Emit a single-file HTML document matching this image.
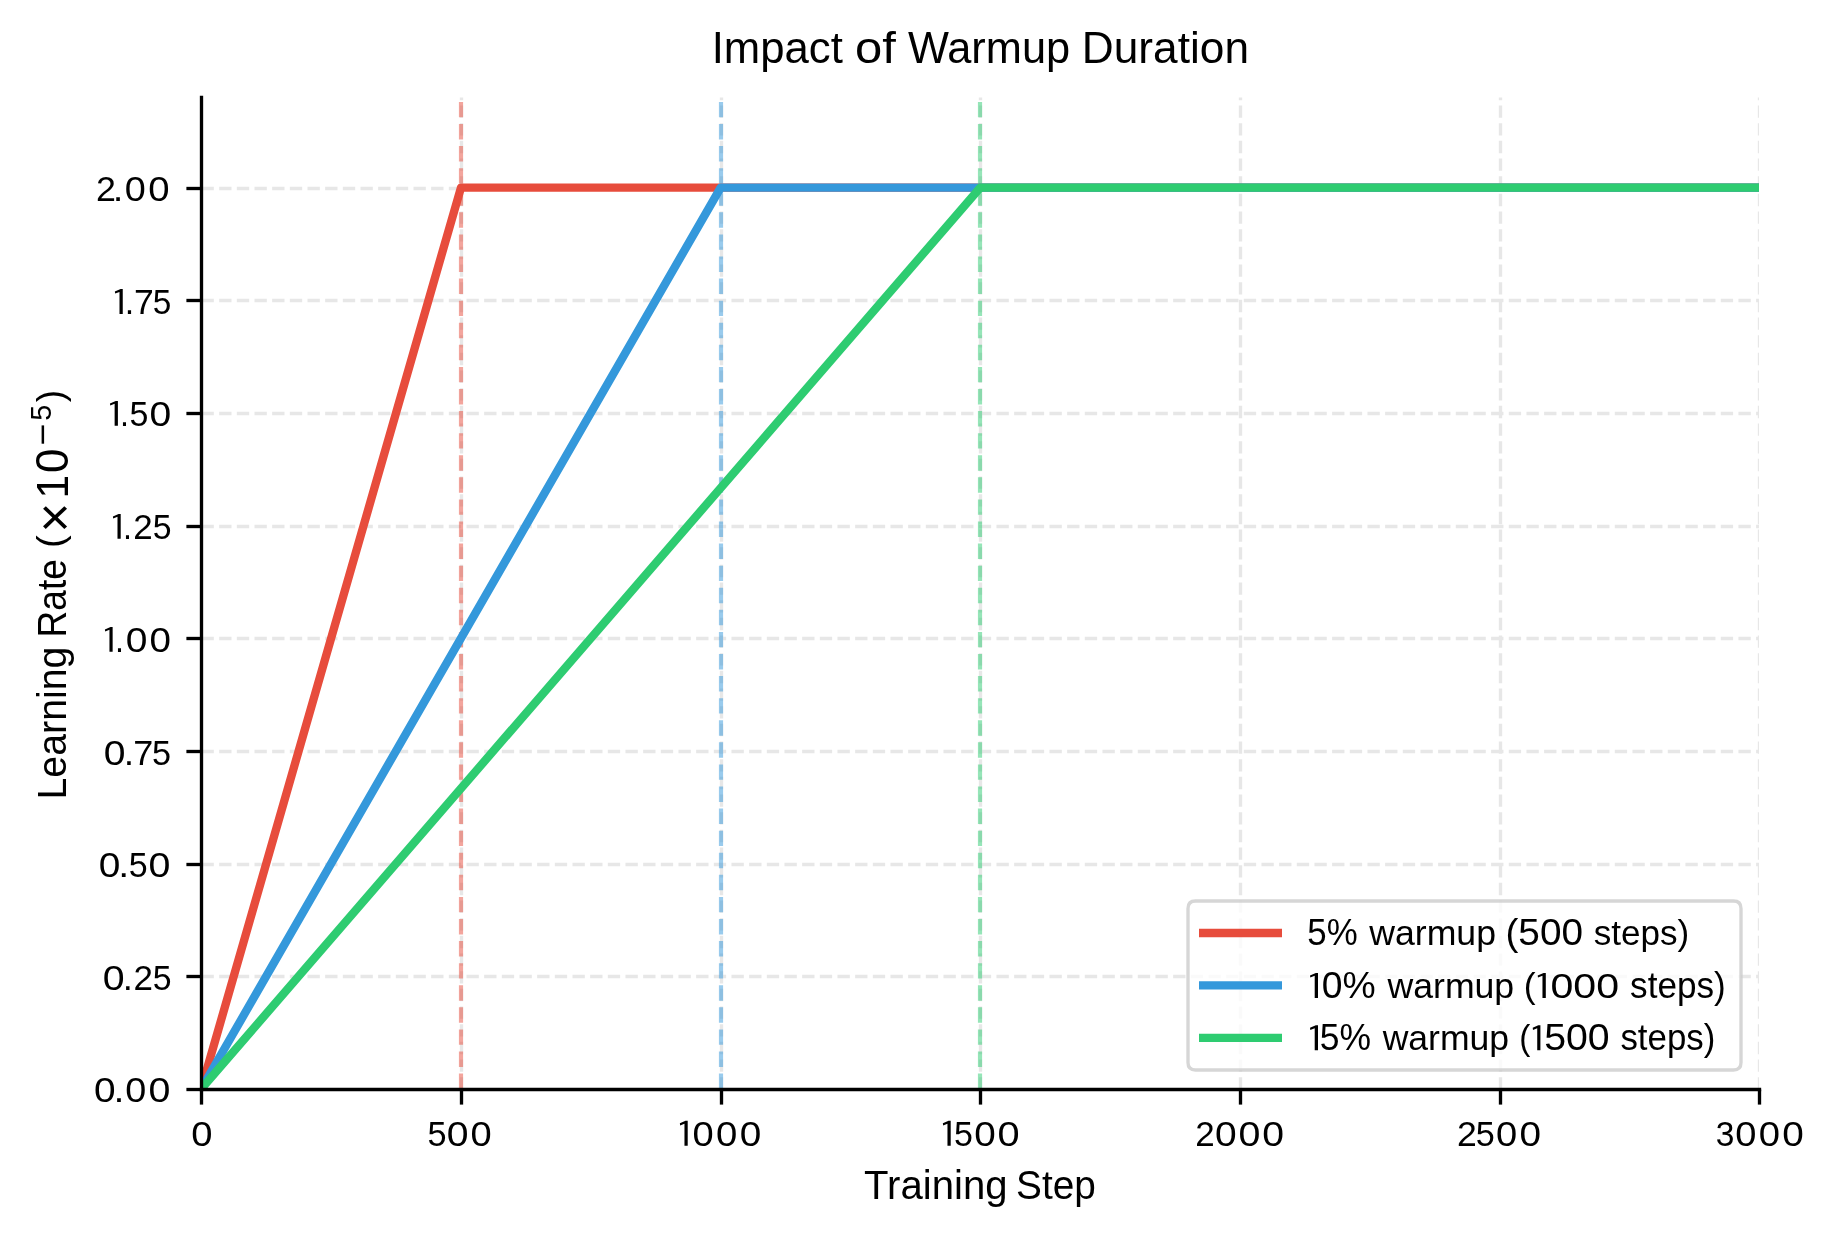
<!DOCTYPE html>
<html><head><meta charset="utf-8"><style>
html,body{margin:0;padding:0;background:#fff;overflow:hidden;}
svg{display:block;will-change:transform;}
text{font-family:"Liberation Sans", sans-serif;fill:#000;}
</style></head><body>
<svg width="1834" height="1234" viewBox="0 0 1834 1234">
<rect width="1834" height="1234" fill="#fff"/>
<defs><clipPath id="ax"><rect x="201" y="97" width="1558" height="992"/></clipPath></defs>
<g clip-path="url(#ax)" fill="none" stroke="#e7e7e7" stroke-width="3.333" stroke-dasharray="12.333 5.333"><path d="M201.5 976.5H1759.5"/><path d="M201.5 864.5H1759.5"/><path d="M201.5 751.5H1759.5"/><path d="M201.5 638.5H1759.5"/><path d="M201.5 526.5H1759.5"/><path d="M201.5 413.5H1759.5"/><path d="M201.5 300.5H1759.5"/><path d="M201.5 188.5H1759.5"/><path d="M461.5 1089.5V97.5"/><path d="M721.5 1089.5V97.5"/><path d="M980.5 1089.5V97.5"/><path d="M1240.5 1089.5V97.5"/><path d="M1500.5 1089.5V97.5"/><path d="M1759.5 1089.5V97.5"/></g>
<g clip-path="url(#ax)" fill="none"><path d="M201.30 1088.85L460.98 187.55L1769.38 187.55" stroke="#e74c3c" stroke-width="8.333" stroke-linejoin="round" stroke-linecap="square"/><path d="M461 1089V97" stroke="#e74c3c" stroke-opacity="0.5" stroke-width="4.167" stroke-dasharray="15.417 6.667"/><path d="M201.30 1088.85L720.66 187.55L1769.38 187.55" stroke="#3498db" stroke-width="8.333" stroke-linejoin="round" stroke-linecap="square"/><path d="M721 1089V97" stroke="#3498db" stroke-opacity="0.5" stroke-width="4.167" stroke-dasharray="15.417 6.667"/><path d="M201.30 1088.85L980.34 187.55L1769.38 187.55" stroke="#2ecc71" stroke-width="8.333" stroke-linejoin="round" stroke-linecap="square"/><path d="M980 1089V97" stroke="#2ecc71" stroke-opacity="0.5" stroke-width="4.167" stroke-dasharray="15.417 6.667"/></g>
<g stroke="#000" stroke-width="3.333" fill="none"><path d="M201.5 95.83V1091.17"/><path d="M199.83 1089.5H1761.17"/>
<path d="M186.40 1089.5H201.5"/>
<path d="M186.40 976.5H201.5"/>
<path d="M186.40 864.5H201.5"/>
<path d="M186.40 751.5H201.5"/>
<path d="M186.40 638.5H201.5"/>
<path d="M186.40 526.5H201.5"/>
<path d="M186.40 413.5H201.5"/>
<path d="M186.40 300.5H201.5"/>
<path d="M186.40 188.5H201.5"/>
<path d="M201.5 1089.5V1104.60"/>
<path d="M461.5 1089.5V1104.60"/>
<path d="M721.5 1089.5V1104.60"/>
<path d="M980.5 1089.5V1104.60"/>
<path d="M1240.5 1089.5V1104.60"/>
<path d="M1500.5 1089.5V1104.60"/>
<path d="M1759.5 1089.5V1104.60"/>
</g>
<path d="M1195.5 901.0H1733.5Q1741.0 901.0 1741.0 908.5V1062.5Q1741.0 1070.0 1733.5 1070.0H1195.5Q1188.0 1070.0 1188.0 1062.5V908.5Q1188.0 901.0 1195.5 901.0Z" fill="#fff" fill-opacity="0.8" stroke="#ccc" stroke-opacity="0.8" stroke-width="3.333"/>
<path d="M1199 933.0H1282" stroke="#e74c3c" stroke-width="8.333"/>
<path d="M1199 985.4H1282" stroke="#3498db" stroke-width="8.333"/>
<path d="M1199 1037.8H1282" stroke="#2ecc71" stroke-width="8.333"/>
<text transform="translate(93.94,1102.25) scale(1.0965,1)" font-size="35.4">0</text>
<text transform="translate(113.47,1102.25) scale(1.1143,1)" font-size="35.4">.</text>
<text transform="translate(125.13,1102.25) scale(1.0676,1)" font-size="35.4">0</text>
<text transform="translate(148.62,1102.25) scale(1.1118,1)" font-size="35.4">0</text>
<text transform="translate(102.66,989.50) scale(1.1094,1)" font-size="35.4">0</text>
<text transform="translate(122.74,989.50) scale(1.0286,1)" font-size="35.4">.</text>
<text transform="translate(133.39,989.50) scale(0.9875,1)" font-size="35.4">2</text>
<text transform="translate(152.87,989.50) scale(0.9540,1)" font-size="35.4">5</text>
<text transform="translate(98.84,876.55) scale(1.0971,1)" font-size="35.4">0</text>
<text transform="translate(118.37,876.55) scale(1.1143,1)" font-size="35.4">.</text>
<text transform="translate(128.76,876.55) scale(0.9600,1)" font-size="35.4">5</text>
<text transform="translate(148.62,876.55) scale(1.1118,1)" font-size="35.4">0</text>
<text transform="translate(103.71,764.60) scale(1.1041,1)" font-size="35.4">0</text>
<text transform="translate(123.65,764.60) scale(1.0571,1)" font-size="35.4">.</text>
<text transform="translate(133.23,764.60) scale(1.0188,1)" font-size="35.4">7</text>
<text transform="translate(152.05,764.60) scale(0.9660,1)" font-size="35.4">5</text>
<path d="M110.53 626.90 L104.90 629.40 L105.19 631.50 L109.46 629.80 L109.46 651.80 L112.64 651.80 L112.64 626.90Z" fill="#000"/>
<text transform="translate(115.10,651.80) scale(0.9143,1)" font-size="35.4">.</text>
<text transform="translate(125.63,651.80) scale(1.1000,1)" font-size="35.4">0</text>
<text transform="translate(149.61,651.80) scale(1.0906,1)" font-size="35.4">0</text>
<path d="M118.58 513.90 L112.90 516.40 L113.20 518.50 L117.49 516.80 L117.49 538.80 L120.70 538.80 L120.70 513.90Z" fill="#000"/>
<text transform="translate(123.10,538.80) scale(0.9143,1)" font-size="35.4">.</text>
<text transform="translate(133.29,538.80) scale(0.9875,1)" font-size="35.4">2</text>
<text transform="translate(152.67,538.80) scale(0.9540,1)" font-size="35.4">5</text>
<path d="M115.74 400.95 L109.95 403.45 L110.25 405.55 L114.63 403.85 L114.63 425.85 L117.90 425.85 L117.90 400.95Z" fill="#000"/>
<text transform="translate(120.10,425.85) scale(0.9143,1)" font-size="35.4">.</text>
<text transform="translate(129.56,425.85) scale(0.9600,1)" font-size="35.4">5</text>
<text transform="translate(149.59,425.85) scale(1.1024,1)" font-size="35.4">0</text>
<path d="M120.60 289.00 L114.85 291.50 L115.15 293.60 L119.50 291.90 L119.50 313.90 L122.75 313.90 L122.75 289.00Z" fill="#000"/>
<text transform="translate(124.86,313.90) scale(0.9600,1)" font-size="35.4">.</text>
<text transform="translate(134.06,313.90) scale(1.0062,1)" font-size="35.4">7</text>
<text transform="translate(152.79,313.90) scale(0.9420,1)" font-size="35.4">5</text>
<text transform="translate(95.99,200.90) scale(1.0119,1)" font-size="35.4">2</text>
<text transform="translate(112.83,200.90) scale(1.0800,1)" font-size="35.4">.</text>
<text transform="translate(124.64,200.90) scale(1.0671,1)" font-size="35.4">0</text>
<text transform="translate(148.16,200.90) scale(1.0824,1)" font-size="35.4">0</text>
<text transform="translate(191.18,1145.70) scale(1.0782,1)" font-size="35.4">0</text>
<text transform="translate(427.49,1145.70) scale(0.9684,1)" font-size="35.4">5</text>
<text transform="translate(446.63,1145.70) scale(1.1059,1)" font-size="35.4">0</text>
<text transform="translate(470.46,1145.70) scale(1.0765,1)" font-size="35.4">0</text>
<path d="M685.56 1120.80 L679.85 1123.30 L680.15 1125.40 L684.47 1123.70 L684.47 1145.70 L687.70 1145.70 L687.70 1120.80Z" fill="#000"/>
<text transform="translate(692.56,1145.70) scale(1.0765,1)" font-size="35.4">0</text>
<text transform="translate(716.06,1145.70) scale(1.0824,1)" font-size="35.4">0</text>
<text transform="translate(739.64,1145.70) scale(1.0941,1)" font-size="35.4">0</text>
<path d="M948.56 1120.80 L942.85 1123.30 L943.15 1125.40 L947.47 1123.70 L947.47 1145.70 L950.70 1145.70 L950.70 1120.80Z" fill="#000"/>
<text transform="translate(953.96,1145.70) scale(0.9600,1)" font-size="35.4">5</text>
<text transform="translate(974.15,1145.70) scale(1.0912,1)" font-size="35.4">0</text>
<text transform="translate(997.40,1145.70) scale(1.1235,1)" font-size="35.4">0</text>
<text transform="translate(1195.28,1145.70) scale(0.9881,1)" font-size="35.4">2</text>
<text transform="translate(1214.93,1145.70) scale(1.1000,1)" font-size="35.4">0</text>
<text transform="translate(1238.42,1145.70) scale(1.1118,1)" font-size="35.4">0</text>
<text transform="translate(1262.13,1145.70) scale(1.1059,1)" font-size="35.4">0</text>
<text transform="translate(1457.06,1145.70) scale(1.0062,1)" font-size="35.4">2</text>
<text transform="translate(1475.65,1145.70) scale(0.9660,1)" font-size="35.4">5</text>
<text transform="translate(1495.96,1145.70) scale(1.0765,1)" font-size="35.4">0</text>
<text transform="translate(1519.44,1145.70) scale(1.0941,1)" font-size="35.4">0</text>
<text transform="translate(1715.81,1145.70) scale(0.9481,1)" font-size="35.4">3</text>
<text transform="translate(1735.26,1145.70) scale(1.0765,1)" font-size="35.4">0</text>
<text transform="translate(1758.81,1145.70) scale(1.0794,1)" font-size="35.4">0</text>
<text transform="translate(1782.34,1145.70) scale(1.0941,1)" font-size="35.4">0</text>
<path d="M1315.82 972.90 L1310.00 975.40 L1310.30 977.50 L1314.71 975.80 L1314.71 997.90 L1318.00 997.90 L1318.00 972.90Z" fill="#000"/>
<path d="M1543.60 972.90 L1537.70 975.40 L1538.01 977.50 L1542.47 975.80 L1542.47 997.90 L1545.80 997.90 L1545.80 972.90Z" fill="#000"/>
<path d="M1315.82 1025.30 L1310.00 1027.80 L1310.30 1029.90 L1314.71 1028.20 L1314.71 1050.30 L1318.00 1050.30 L1318.00 1025.30Z" fill="#000"/>
<path d="M1538.30 1025.30 L1532.70 1027.80 L1532.99 1029.90 L1537.23 1028.20 L1537.23 1050.30 L1540.40 1050.30 L1540.40 1025.30Z" fill="#000"/>
<text transform="translate(711.64,62.90) scale(0.9734,1)" font-size="44.9">Impact</text>
<text transform="translate(854.90,62.90) scale(1.0907,1)" font-size="44.9">of</text>
<text transform="translate(907.94,62.90) scale(0.9657,1)" font-size="44.9">Warmup</text>
<text transform="translate(1081.79,62.90) scale(0.9855,1)" font-size="44.9">Duration</text>
<text transform="translate(864.08,1198.90) scale(0.9859,1)" font-size="40.7">Training</text>
<text transform="translate(1016.05,1198.90) scale(0.9530,1)" font-size="40.7">Step</text>
<text transform="translate(1307.30,945.00) scale(0.9679,1)" font-size="36">5%</text>
<text transform="translate(1369.30,945.00) scale(0.9897,1)" font-size="36">warmup</text>
<text transform="translate(1505.47,945.00) scale(1.0759,1)" font-size="36">(500</text>
<text transform="translate(1593.73,945.00) scale(0.9743,1)" font-size="36">steps)</text>
<text transform="translate(1321.72,997.90) scale(1.0364,1)" font-size="36">0%</text>
<text transform="translate(1387.50,997.90) scale(0.9897,1)" font-size="36">warmup</text>
<text transform="translate(1523.66,997.90) scale(0.9895,1)" font-size="36">(</text>
<text transform="translate(1550.43,997.90) scale(1.1416,1)" font-size="36">000</text>
<text transform="translate(1630.08,997.90) scale(0.9749,1)" font-size="36">steps)</text>
<text transform="translate(1319.82,1050.30) scale(0.9851,1)" font-size="36">5%</text>
<text transform="translate(1382.65,1050.30) scale(0.9877,1)" font-size="36">warmup</text>
<text transform="translate(1519.19,1050.30) scale(0.9263,1)" font-size="36">(</text>
<text transform="translate(1544.16,1050.30) scale(1.0907,1)" font-size="36">500</text>
<text transform="translate(1620.43,1050.30) scale(0.9680,1)" font-size="36">steps)</text>
<g transform="translate(65.9,796.3) rotate(-90)"><text transform="translate(-3.24,0.00) scale(0.9733,1.0000)" font-size="40.4">Learning</text><text transform="translate(158.84,0.00) scale(0.9181,1.0000)" font-size="40.4">Rate</text><text transform="translate(248.42,-2.82) scale(1.0200,0.9981)" font-size="37.8">(</text><text transform="translate(263.80,6.81) scale(0.9826,1.0478)" font-size="52">×</text><text transform="translate(297.76,2.50) scale(0.9254,0.9841)" font-size="45.8">1</text><text transform="translate(323.34,2.40) scale(0.9618,0.9969)" font-size="45.8">0</text><text transform="translate(375.47,-14.43) scale(0.9671,1.0016)" font-size="29.7">5</text><text transform="translate(394.07,-2.54) scale(0.9864,1.0009)" font-size="37.8">)</text><rect x="352.6" y="-24.3" width="18.3" height="2.5" fill="#000"/></g>
</svg>
</body></html>
